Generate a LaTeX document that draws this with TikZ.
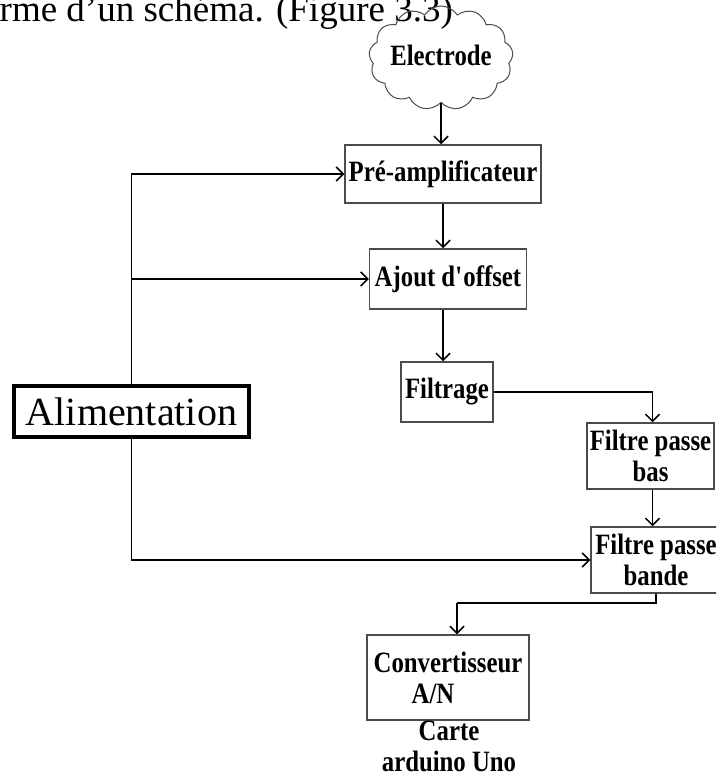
\documentclass[tikz,border=0pt]{standalone}
\usepackage{fontspec}
\setmainfont{Liberation Serif}
\newfontfamily\etroite[FakeStretch=0.84]{Liberation Serif}
\usetikzlibrary{arrows.meta,shapes.symbols,positioning}

\newcommand{\boxfont}{\etroite\bfseries\fontsize{29.5}{31}\selectfont}
\tikzset{
  bloc/.style={draw=gray!60!black, line width=1.5pt, inner sep=1pt,
    align=center, font=\boxfont},
  fleche/.style={line width=1.5pt, -{Straight Barb[length=7pt,width=14pt]}},
  ligne/.style={line width=1.5pt}
}

\begin{document}
\begin{tikzpicture}[x=1pt,y=-1pt]
    % Cadre
    \useasboundingbox (0,0) rectangle (716,773);
    \clip (0,0) rectangle (716,773);
    \fill[white] (0,0) rectangle (716,773);

    % Texte coupe en haut
    \node[anchor=base east, inner sep=0, font=\fontsize{37}{40}\selectfont]
      (titre) at (453,22) {forme d'un schéma. (Figure 3.3)};

    % Capteur
    \node[cloud, cloud puffs=13, cloud puff arc=115, cloud ignores aspect,
      draw=gray!60!black, line width=1pt, minimum width=136,
      minimum height=104, inner sep=0, font=\boxfont] (electrode)
      at (441,58) {\raisebox{6pt}{Electrode}};

    % Chaine de traitement
    \node[bloc, minimum width=196, minimum height=58] (preamp) at (443,174)
      {Pré-amplificateur};
    \node[bloc, minimum width=157, minimum height=60] (offset) at (448,279)
      {Ajout d\textquotesingle offset};
    \node[bloc, minimum width=92, minimum height=60] (filtrage) at (447,392)
      {Filtrage};
    \node[bloc, minimum width=127, minimum height=66] (pbas) at (650.5,456)
      {Filtre passe\\bas};
    \node[bloc, minimum width=130, minimum height=66] (bande) at (656,560)
      {Filtre passe\\bande};
    \node[bloc, align=left, minimum width=162, minimum height=85] (conv)
      at (448,677.5) {Convertisseur\\\hspace*{38pt}A/N};
    \node[inner sep=0, align=center, font=\boxfont] (carte) at (449,746)
      {Carte\\arduino Uno};

    % Alimentation
    \node[draw=black, line width=3.5pt, inner sep=0, minimum width=235,
      minimum height=51, font=\fontsize{40}{42}\selectfont] (alim)
      at (131.5,411.5) {Alimentation};

    % Liaisons du signal
    \draw[fleche] (electrode.south) -- (electrode.south |- preamp.north);
    \draw[fleche] (preamp.south) -- (preamp.south |- offset.north);
    \draw[fleche] (offset.south -| preamp.south) -- (preamp.south |- filtrage.north);
    \draw[fleche] (filtrage.east) -| ([xshift=2pt]pbas.north);
    \draw[fleche] ([xshift=2pt]pbas.south) -- ([xshift=2pt]pbas.south |- bande.north);
    \coordinate (coude) at (457,603);
    \draw[ligne] (bande.south) |- (coude);
    \draw[fleche] (coude) -- (coude |- conv.north);

    % Liaisons de l'alimentation
    \draw[fleche] (alim.north) |- (preamp.west);
    \draw[fleche] (alim.north) |- (offset.west);
    \draw[fleche] (alim.south) |- (bande.west);

  \end{tikzpicture}
\end{document}
